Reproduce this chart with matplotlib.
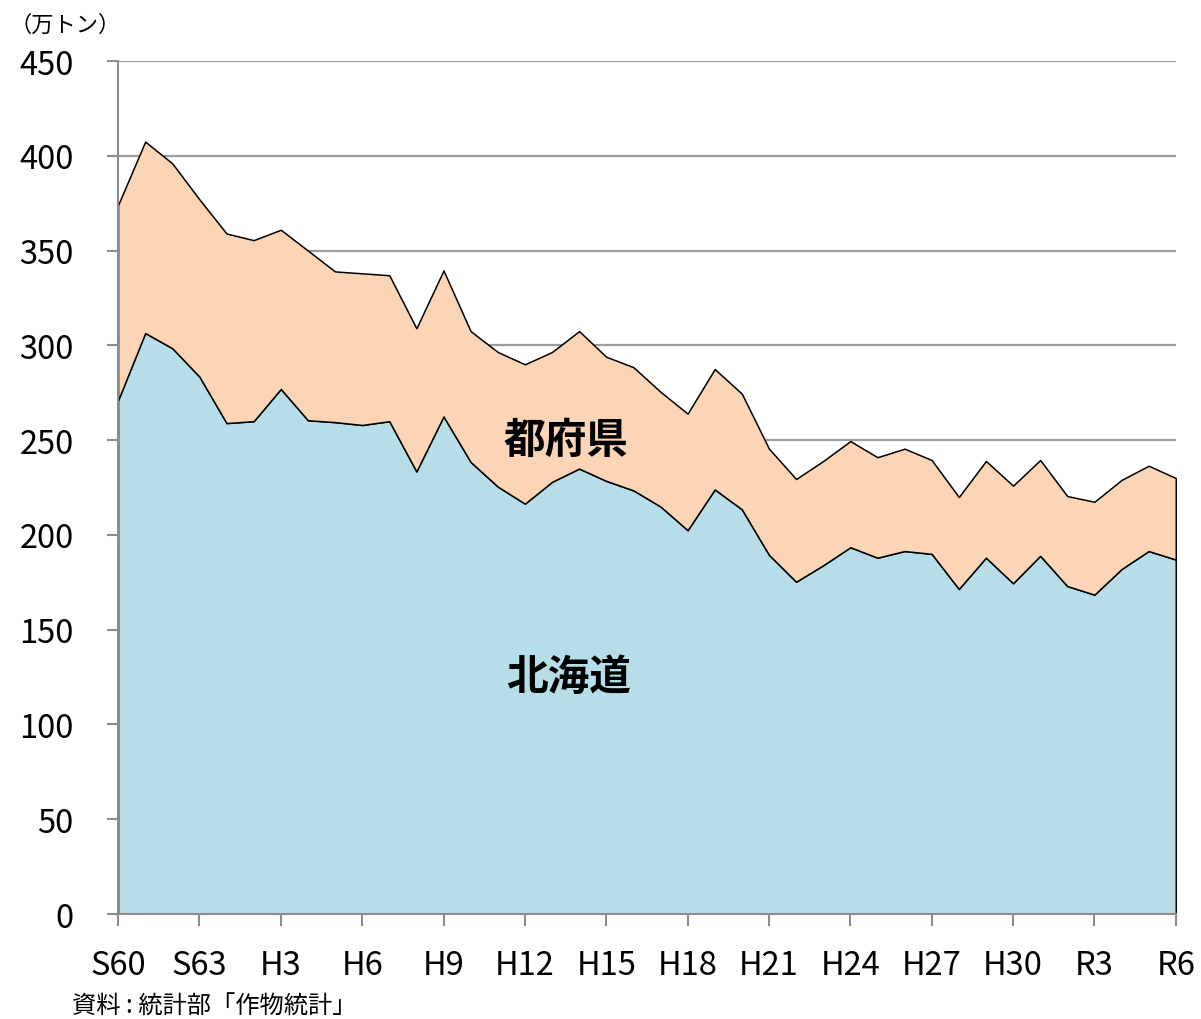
import matplotlib
matplotlib.use('Agg')
import matplotlib.pyplot as plt
import numpy as np

plt.rcParams['font.family'] = ['Noto Sans CJK JP', 'DejaVu Sans']

# 年次ラベル (S60 = 1985 ... R6 = 2024)
tick_labels = ['S60', 'S63', 'H3', 'H6', 'H9', 'H12', 'H15', 'H18',
               'H21', 'H24', 'H27', 'H30', 'R3', 'R6']

# 北海道 (万トン)
hokkaido = [271, 306.5, 298.5, 283.5, 259, 260, 277, 260.5, 259.5, 258,
            260, 233.5, 262.5, 238.5, 225.5, 216.5, 228, 235, 228.5, 223.5,
            215, 202.5, 224, 213.5, 189.5, 175.3, 184, 193.5, 188, 191.5,
            190, 171.5, 188, 174.5, 189, 173, 168.5, 182, 191.5, 187]

# 都府県 (万トン)
tofuken = [103, 101, 97.5, 93.5, 100, 95.5, 84, 89.5, 79.5, 80,
           77, 75.5, 77, 69, 71, 73.5, 68.5, 72.5, 65.5, 65,
           60.5, 61.5, 63.5, 61, 56, 54.2, 55, 56, 53, 54,
           49.5, 48.5, 51, 51.5, 50.5, 47.5, 49, 47, 45, 43]

x = np.arange(len(hokkaido))

fig = plt.figure(figsize=(12.01, 10.2), dpi=100)
ax = fig.add_axes([0.0983, 0.1029, 0.8807, 0.8363])

ax.stackplot(x, hokkaido, tofuken, colors=['#b7dde8', '#fbd5b5'],
             edgecolor='black', linewidth=1.1, zorder=2)

ax.set_xlim(0, len(x) - 1)
ax.set_ylim(0, 450)
ax.set_yticks(np.arange(0, 451, 50))
ax.set_xticks(np.arange(0, len(x), 3))
ax.set_xticklabels(tick_labels)

ax.yaxis.grid(True, color='#9c9c9c', linewidth=1.6, zorder=0)
ax.set_axisbelow(True)

for s in ['top', 'right']:
    ax.spines[s].set_visible(False)
for s in ['left', 'bottom']:
    ax.spines[s].set_color('#8c8c8c')
    ax.spines[s].set_linewidth(1.5)
    ax.spines[s].set_zorder(3)

ax.tick_params(axis='y', length=8, width=1.5, color='#8c8c8c', pad=24,
               labelsize=23.5)
ax.tick_params(axis='x', length=8.6, width=1.5, color='#8c8c8c', pad=16.5,
               labelsize=23.5)

ax.text(16.5, 250, '都府県', fontsize=30, fontweight='bold',
        ha='center', va='center', zorder=4)
ax.text(16.6, 125, '北海道', fontsize=30, fontweight='bold',
        ha='center', va='center', zorder=4)

fig.text(0.008, 0.975, '（万トン）', fontsize=16, ha='left', va='center')
fig.text(0.06, 0.013, '資料 : 統計部「作物統計」', fontsize=17.5,
         ha='left', va='center')

fig.savefig('out.png', dpi=100)
